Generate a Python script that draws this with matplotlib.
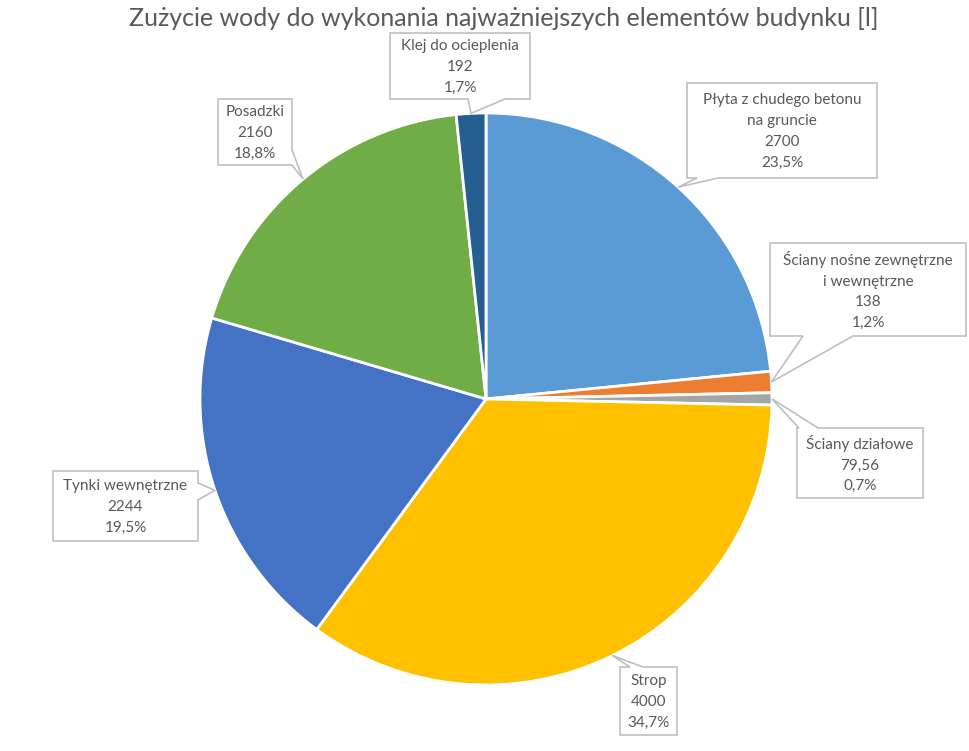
import matplotlib
matplotlib.use("Agg")
import matplotlib.pyplot as plt
from matplotlib.patches import Polygon
import numpy as np

categories = [
    "Płyta z chudego betonu\nna gruncie",
    "Ściany nośne zewnętrzne\ni wewnętrzne",
    "Ściany działowe",
    "Strop",
    "Tynki wewnętrzne",
    "Posadzki",
    "Klej do ocieplenia",
]
values = [2700, 138, 79.56, 4000, 2244, 2160, 192]
colors = ["#5B9BD5", "#ED7D31", "#A5A5A5", "#FFC000", "#4472C4", "#70AD47", "#255E91"]
title = "Zużycie wody do wykonania najważniejszych elementów budynku [l]"

plt.rcParams["font.family"] = ["Lato", "DejaVu Sans"]

W, H = 970, 751
fig = plt.figure(figsize=(W / 100, H / 100), dpi=100)

# pie placed by pixel centre/radius
cx, cy, r = 486, 399, 286
ax = fig.add_axes([(cx - r) / W, (H - cy - r) / H, 2 * r / W, 2 * r / H])
wedges, _ = ax.pie(values, colors=colors, startangle=90, counterclock=False,
                   wedgeprops=dict(edgecolor="white", linewidth=2))
ax.set_xlim(-1, 1)
ax.set_ylim(-1, 1)

# overlay in pixel coords (y down) for the callouts
ov = fig.add_axes([0, 0, 1, 1], zorder=5)
ov.set_xlim(0, W)
ov.set_ylim(H, 0)
ov.axis("off")
ov.patch.set_alpha(0)

# box (x0, y0, x1, y1), side of tail, tail base along that side
boxes = [
    ((687, 83, 877, 178), "bottom", (697, 718)),
    ((770, 243, 966, 336), "bottom", (803, 853)),
    ((797, 428, 923, 498), "top", (799, 818)),
    ((620, 667, 677, 735), "top", (630, 643)),
    ((53, 471, 198, 541), "right", (483, 500)),
    ((218, 99, 292, 165), "right", (150, 165)),
    ((390, 33, 530, 99), "bottom", (468, 505)),
]


def callout(box, side, base, tip):
    x0, y0, x1, y1 = box
    a, b = base
    pts = [(x0, y0)]
    if side == "top":
        pts += [(a, y0), tip, (b, y0)]
    pts += [(x1, y0)]
    if side == "right":
        pts += [(x1, a), tip, (x1, b)]
    pts += [(x1, y1)]
    if side == "bottom":
        pts += [(b, y1), tip, (a, y1)]
    pts += [(x0, y1)]
    if side == "left":
        pts += [(x0, b), tip, (x0, a)]
    ov.add_patch(Polygon(pts, closed=True, fc="white", ec="#BFBFBF", lw=1.2))


total = sum(values)
inv = ov.transData.inverted()
for w, name, v, (box, side, base) in zip(wedges, categories, values, boxes):
    th = np.deg2rad((w.theta1 + w.theta2) / 2)
    tip = inv.transform(ax.transData.transform((np.cos(th), np.sin(th))))
    callout(box, side, base, tuple(tip))
    val = f"{v:g}".replace(".", ",")
    pct = f"{v / total * 100:.1f}%".replace(".", ",")
    ov.text((box[0] + box[2]) / 2, (box[1] + box[3]) / 2 + 1,
            f"{name}\n{val}\n{pct}", ha="center", va="center",
            fontsize=11, linespacing=1.62, color="#595959")

fig.text(504 / W, 1 - 18 / H, title, ha="center", va="center",
         fontsize=18, color="#595959")

fig.savefig("out.png", dpi=100)
